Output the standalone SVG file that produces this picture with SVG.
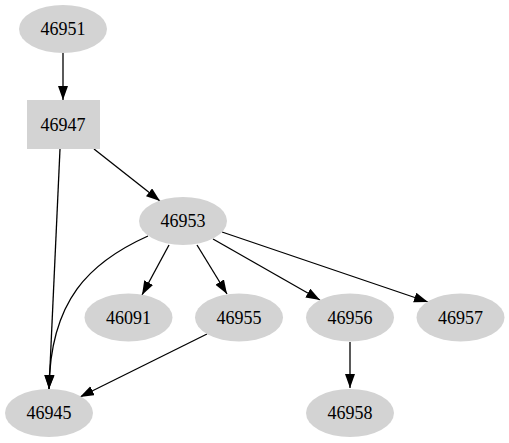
<svg xmlns="http://www.w3.org/2000/svg" width="509" height="443" viewBox="0 0 509 443">
<style>
.n{fill:#d3d3d3;stroke:none}
.t{font-family:"Liberation Serif","Times New Roman",serif;font-size:18px;fill:#000;text-anchor:middle}
.e{fill:none;stroke:#000;stroke-width:1.3}
</style>
<defs>
<marker id="a" markerUnits="userSpaceOnUse" markerWidth="15" markerHeight="11" refX="14" refY="5" orient="auto">
<path d="M0,0 L14,5 L0,10 z" fill="#000"/>
</marker>
</defs>
<rect width="509" height="443" fill="#fff"/>
<g id="edges">
<path class="e" marker-end="url(#a)" d="M63,53 L63,100"/>
<path class="e" marker-end="url(#a)" d="M94,149 L160,201"/>
<path class="e" marker-end="url(#a)" d="M60,149 L49,389"/>
<path class="e" marker-end="url(#a)" d="M148,236 C90,262 50,300 49,389"/>
<path class="e" marker-end="url(#a)" d="M169,245 L142,295"/>
<path class="e" marker-end="url(#a)" d="M197,245 L227,294"/>
<path class="e" marker-end="url(#a)" d="M213,239 L320,300"/>
<path class="e" marker-end="url(#a)" d="M222,232 L428,302"/>
<path class="e" marker-end="url(#a)" d="M207,334 L80,397"/>
<path class="e" marker-end="url(#a)" d="M350,342 L350,388"/>
</g>
<g id="n46951"><ellipse class="n" cx="63" cy="29" rx="44" ry="24"/><text class="t" x="63" y="35">46951</text></g>
<g id="n46947"><rect class="n" x="27" y="100" width="73" height="49"/><text class="t" x="63" y="131">46947</text></g>
<g id="n46953"><ellipse class="n" cx="183" cy="221" rx="44" ry="24"/><text class="t" x="183" y="227">46953</text></g>
<g id="n46091"><ellipse class="n" cx="128.5" cy="317.5" rx="44" ry="24"/><text class="t" x="128.5" y="323.5">46091</text></g>
<g id="n46955"><ellipse class="n" cx="239" cy="317.5" rx="44" ry="24"/><text class="t" x="239" y="323.5">46955</text></g>
<g id="n46956"><ellipse class="n" cx="350" cy="317.5" rx="44" ry="24"/><text class="t" x="350" y="323.5">46956</text></g>
<g id="n46957"><ellipse class="n" cx="460.5" cy="317.5" rx="44" ry="24"/><text class="t" x="460.5" y="323.5">46957</text></g>
<g id="n46945"><ellipse class="n" cx="49" cy="413" rx="44" ry="24"/><text class="t" x="49" y="419">46945</text></g>
<g id="n46958"><ellipse class="n" cx="350" cy="413" rx="44" ry="24"/><text class="t" x="350" y="419">46958</text></g>
</svg>
